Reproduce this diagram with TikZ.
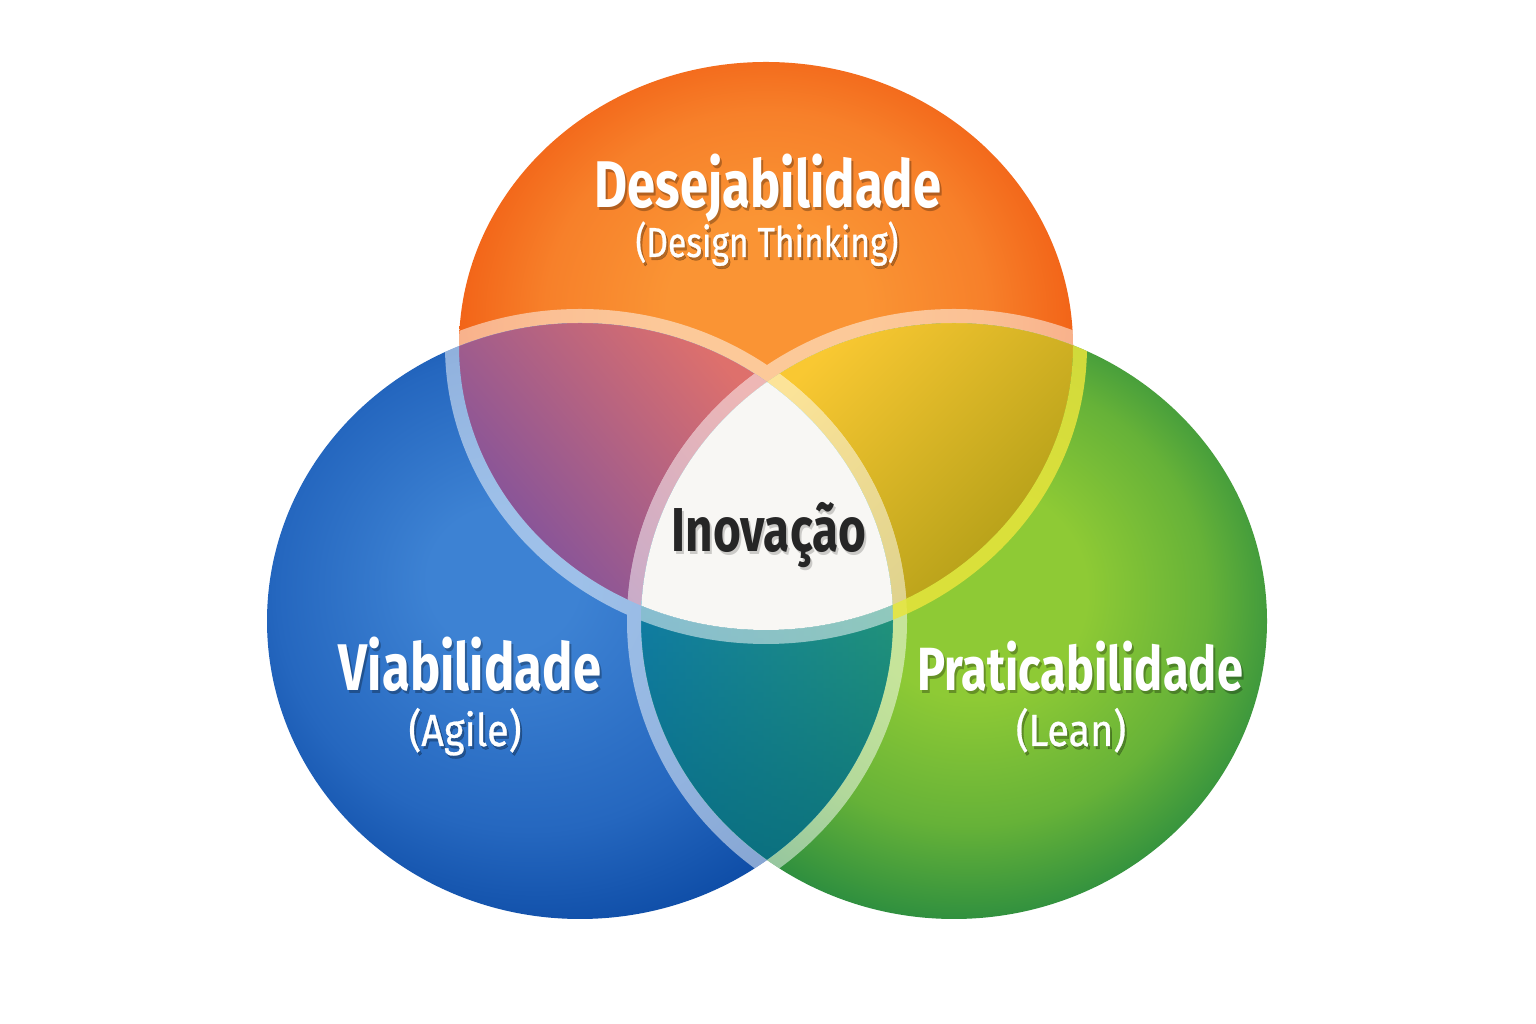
\documentclass[tikz,border=0pt]{standalone}
\usepackage{fontspec}
\setmainfont{Fira Sans}
\newfontfamily\titlefont{Fira Sans}[FakeStretch=0.77]
\newfontfamily\subfont{Fira Sans}[FakeStretch=0.8, FakeBold=0.6]
\newfontfamily\subwidefont{Fira Sans}[FakeStretch=0.88, FakeBold=0.6]
\usetikzlibrary{fadings}
\definecolor{oLight}{HTML}{FA9434}
\definecolor{oMid}{HTML}{F7802A}
\definecolor{oDark}{HTML}{F26418}
\definecolor{bLight}{HTML}{3D82D3}
\definecolor{bMid}{HTML}{2567BF}
\definecolor{bDark}{HTML}{0A48A2}
\definecolor{gLight}{HTML}{8ECA35}
\definecolor{gMid}{HTML}{66B238}
\definecolor{gDark}{HTML}{258940}
\definecolor{pPink}{HTML}{DE706C}
\definecolor{pMid}{HTML}{AE6088}
\definecolor{pPurple}{HTML}{7A50A0}
\definecolor{yYellow}{HTML}{F9C832}
\definecolor{yMid}{HTML}{D4B424}
\definecolor{yOlive}{HTML}{AE9C16}
\definecolor{tBlue}{HTML}{178AC0}
\definecolor{tGreen}{HTML}{35B27A}
\definecolor{tDark}{HTML}{06687A}
\definecolor{centerWhite}{HTML}{F8F7F4}
\definecolor{bandYellow}{HTML}{E8E43C}
\definecolor{inkDark}{HTML}{262626}
\pgfdeclareradialshading{shOrange}{\pgfpoint{0bp}{4bp}}{color(0bp)=(oLight); color(8bp)=(oLight); color(18bp)=(oMid); color(25bp)=(oDark); color(50bp)=(oDark)}
\pgfdeclareradialshading{shBlue}{\pgfpoint{-7bp}{4bp}}{color(0bp)=(bLight); color(6bp)=(bLight); color(20bp)=(bMid); color(30bp)=(bDark); color(50bp)=(bDark)}
\pgfdeclareradialshading{shGreen}{\pgfpoint{2bp}{3bp}}{color(0bp)=(gLight); color(9bp)=(gLight); color(19bp)=(gMid); color(28bp)=(gDark); color(50bp)=(gDark)}
\tikzfading[name=fadebottom, top color=transparent!100, bottom color=transparent!15]
\begin{document}
\begin{tikzpicture}[x=1pt,y=1pt,
  title/.style={font=\titlefont\bfseries\fontsize{66}{70}\selectfont, text=white, anchor=base, inner sep=0pt},
  smalltitle/.style={font=\titlefont\bfseries\fontsize{61}{65}\selectfont, text=white, anchor=base, inner sep=0pt},
  subtitle/.style={font=\subfont\fontsize{42}{46}\selectfont, text=white, anchor=base, inner sep=0pt},
  widesubtitle/.style={font=\subwidefont\fontsize{45}{49}\selectfont, text=white, anchor=base, inner sep=0pt},
  centertitle/.style={font=\titlefont\bfseries\fontsize{62}{66}\selectfont, text=inkDark, anchor=base, inner sep=0pt},
  shadowtxt/.style={text=black, text opacity=0.28},
  band/.style={draw=white, line width=14}
]
\useasboundingbox (0,0) rectangle (1536,1024);
\fill[white] (0,0) rectangle (1536,1024);

% single circles
\shade[shading=shOrange] (766,678) ellipse [x radius=307, y radius=284];
\shade[shading=shBlue] (580,403) ellipse [x radius=313, y radius=298];
\shade[shading=shGreen] (954,403) ellipse [x radius=313, y radius=298];

% orange & blue
\begin{scope}
  \clip (766,678) ellipse [x radius=307, y radius=284];
  \clip (580,403) ellipse [x radius=313, y radius=298];
  \shade[shading=axis, top color=pPink, middle color=pMid, bottom color=pPurple, shading angle=-50] (455,414) rectangle (770,704);
\end{scope}
% orange & green
\begin{scope}
  \clip (766,678) ellipse [x radius=307, y radius=284];
  \clip (954,403) ellipse [x radius=313, y radius=298];
  \shade[shading=axis, top color=yYellow, middle color=yMid, bottom color=yOlive, shading angle=45] (764,414) rectangle (1078,704);
\end{scope}
% blue & green
\begin{scope}
  \clip (580,403) ellipse [x radius=313, y radius=298];
  \clip (954,403) ellipse [x radius=313, y radius=298];
  \shade[left color=tBlue, right color=tGreen] (636,159) rectangle (898,646);
  \fill[tDark, path fading=fadebottom] (636,159) rectangle (898,646);
\end{scope}
% all three
\begin{scope}
  \clip (766,678) ellipse [x radius=307, y radius=284];
  \clip (580,403) ellipse [x radius=313, y radius=298];
  \fill[centerWhite] (954,403) ellipse [x radius=313, y radius=298];
\end{scope}

% light bands just outside each circle, seen over the others
\begin{scope}[transparency group, opacity=0.5]
  \begin{scope}
    \clip (766,678) ellipse [x radius=307, y radius=284];
    \draw[band] (580,403) ellipse [x radius=320, y radius=305];
    \draw[band] (954,403) ellipse [x radius=320, y radius=305];
  \end{scope}
  \begin{scope}
    \clip (580,403) ellipse [x radius=313, y radius=298];
    \draw[band] (766,678) ellipse [x radius=314, y radius=291];
    \draw[band] (954,403) ellipse [x radius=320, y radius=305];
  \end{scope}
  \begin{scope}
    \clip (954,403) ellipse [x radius=313, y radius=298];
    \draw[band] (580,403) ellipse [x radius=320, y radius=305];
  \end{scope}
\end{scope}
\begin{scope}
  \clip (954,403) ellipse [x radius=313, y radius=298];
  \begin{scope}[even odd rule]
    \clip (0,0) rectangle (1536,1024) (580,403) ellipse [x radius=313, y radius=298];
    \draw[line width=14, draw=bandYellow, opacity=0.85] (766,678) ellipse [x radius=314, y radius=291];
  \end{scope}
\end{scope}

% labels
\node[title, shadowtxt] (desejS) at (770,813) {Desejabilidade};
\node[title] (desej) at (768,816) {Desejabilidade};
\node[subtitle, shadowtxt] (dtS) at (769,764) {(Design Thinking)};
\node[subtitle] (dt) at (767,767) {(Design Thinking)};
\node[title, shadowtxt] (viabS) at (472,330) {Viabilidade};
\node[title] (viab) at (470,333) {Viabilidade};
\node[widesubtitle, shadowtxt] (agileS) at (467,275) {(Agile)};
\node[widesubtitle] (agile) at (465,278) {(Agile)};
\node[smalltitle, shadowtxt] (pratS) at (1082,330) {Praticabilidade};
\node[smalltitle] (prat) at (1080,333) {Praticabilidade};
\node[widesubtitle, shadowtxt] (leanS) at (1073,275) {(Lean)};
\node[widesubtitle] (lean) at (1071,278) {(Lean)};
\node[centertitle, text=black, text opacity=0.18] (inovS) at (771,469) {Inovação};
\node[centertitle] (inov) at (769,472) {Inovação};
\end{tikzpicture}
\end{document}
